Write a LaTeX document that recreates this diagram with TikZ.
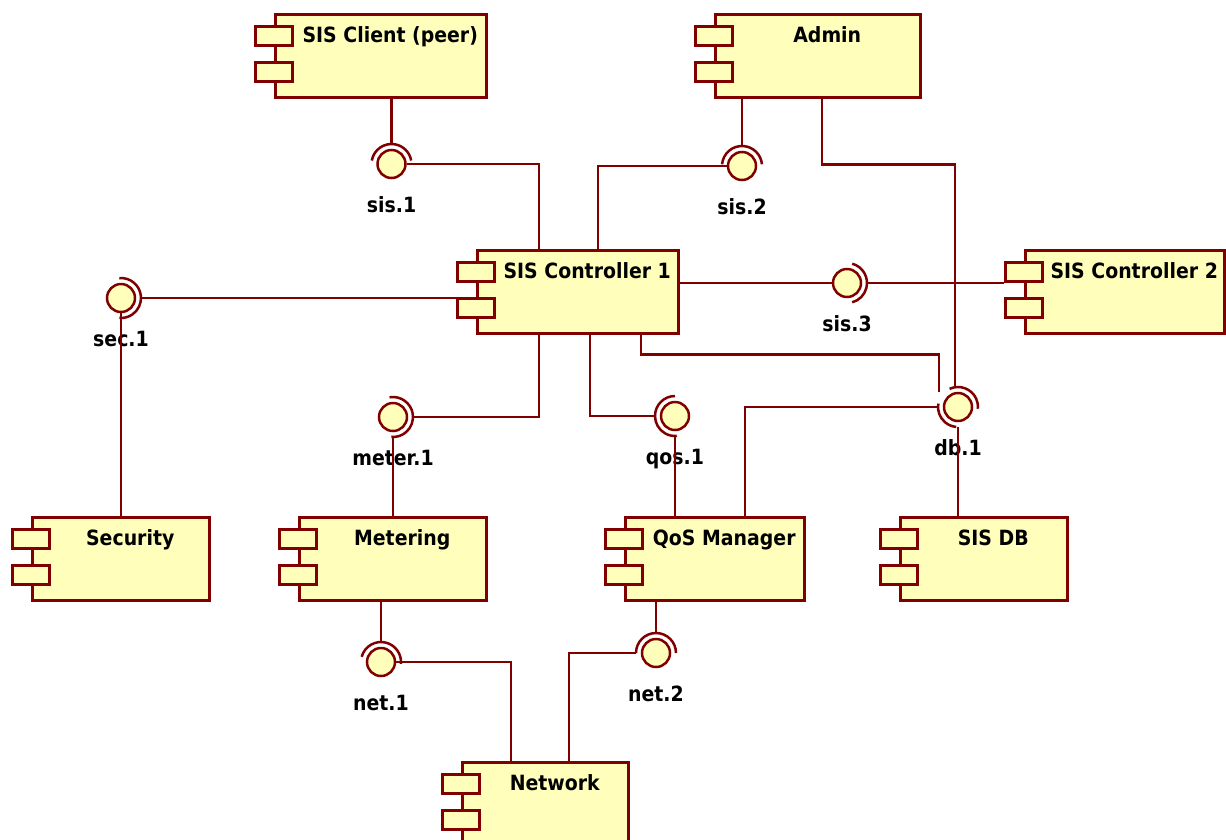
\documentclass[tikz,border=0pt]{standalone}
\usepackage{fontspec}
\newfontfamily\umlfont{DejaVu Sans}[FakeStretch=0.9]
\usepackage{tikz}
\usetikzlibrary{calc}
\usetikzlibrary{positioning}

\definecolor{umlred}{RGB}{128,0,0}
\definecolor{umlfill}{RGB}{255,255,187}

\tikzset{
    comp/.style={draw=umlred, fill=umlfill, line width=2.5pt,
        minimum height=83pt, inner sep=0pt, anchor=north west},
    port/.style={draw=umlred, fill=umlfill, line width=2.5pt,
        minimum width=37pt, minimum height=19pt, inner sep=0pt},
    comptitle/.style={anchor=base, inner sep=0pt,
        font=\umlfont\fontsize{21}{25}\selectfont\bfseries},
    ball/.style={circle, draw=umlred, fill=umlfill, line width=2.5pt,
        minimum size=28pt, inner sep=0pt},
    socket/.style={circle, minimum size=40pt, inner sep=0pt, outer sep=0pt},
    iflabel/.style={anchor=base, inner sep=0pt,
        font=\umlfont\fontsize{21}{25}\selectfont\bfseries},
    wire/.style={draw=umlred, line width=2.5pt}
}

% component: name, left, top, width, title
\newcommand{\umlcomp}[5]{%
    \node[comp, minimum width=#4pt] (#1) at (#2,#3) {};
    \node[port] (#1-a) at ([yshift=-23pt]#1.north west) {};
    \node[port] (#1-b) at ([yshift=-59pt]#1.north west) {};
    \node[comptitle] (#1-t) at ([xshift=9.5pt,yshift=-29.5pt]#1.north) {#5};
}

% interface: name, x, y, label
\newcommand{\umlif}[4]{%
    \node[ball] (#1) at (#2,#3) {};
    \node[socket] (#1s) at (#1.center) {};
    \node[iflabel] (#1-l) at ([yshift=-48pt]#1.center) {#4};
}

\begin{document}
\begin{tikzpicture}[x=1pt, y=-1pt]

        \useasboundingbox (0,0) rectangle (1226,839);

        % components
        \umlcomp{client}{274}{13}{211}{SIS Client (peer)}
        \umlcomp{admin}{714}{13}{205}{Admin}
        \umlcomp{ctrl1}{476}{249}{201}{SIS Controller 1}
        \umlcomp{ctrl2}{1024}{249}{199}{SIS Controller 2}
        \umlcomp{sec}{31}{516}{177}{Security}
        \umlcomp{meter}{298}{516}{187}{Metering}
        \umlcomp{qos}{624}{516}{179}{QoS Manager}
        \umlcomp{db}{899}{516}{167}{SIS DB}
        \umlcomp{net}{461}{761}{166}{Network}

        % interfaces
        \umlif{sis1}{391.5}{164}{sis.1}
        \umlif{sis2}{742}{166}{sis.2}
        \umlif{sec1}{121}{298}{sec.1}
        \umlif{sis3}{847}{283}{sis.3}
        \umlif{meter1}{393}{417}{meter.1}
        \umlif{qos1}{675}{416}{qos.1}
        \umlif{net1}{381}{662}{net.1}
        \umlif{net2}{656}{653}{net.2}
        \umlif{db1}{958}{407}{db.1}

        \begin{scope}[wire]
            % sockets
            \draw (sis1s.170) arc[start angle=170, end angle=10, radius=20pt];
            \draw (sis2s.175) arc[start angle=175, end angle=5, radius=20pt];
            \draw (sec1s.95) arc[start angle=95, end angle=-95, radius=20pt];
            \draw (sis3s.75) arc[start angle=75, end angle=-75, radius=20pt];
            \draw (meter1s.100) arc[start angle=100, end angle=-95, radius=20pt];
            \draw (qos1s.90) arc[start angle=90, end angle=275, radius=20pt];
            \draw (net1s.165) arc[start angle=165, end angle=-5, radius=20pt];
            \draw (net2s.180) arc[start angle=180, end angle=0, radius=20pt];
            \draw (db1s.115) arc[start angle=115, end angle=-5, radius=20pt];
            \draw (db1s.170) arc[start angle=170, end angle=265, radius=20pt];

            % wires
            \draw (client.south -| sis1s.north) -- (sis1s.north);
            \draw (sis1.east) -| ([xshift=63pt]ctrl1.north west);
            \draw (admin.south -| sis2s.north) -- (sis2s.north);
            \draw (sis2.west) -| ([xshift=122pt]ctrl1.north west);
            \draw (sec1s.east) -- (sec1s.east -| ctrl1-b.west);
            \draw (sec1.south) -- (sec1.south |- sec.north);
            \draw (ctrl1.east |- sis3.west) -- (sis3.west);
            \draw (sis3s.east) -- (sis3s.east -| ctrl2-a.west);
            \draw ([xshift=108pt]admin.south west) -- ++(0,66)
                -| ([xshift=-3pt]db1s.north);
            \draw ([xshift=165pt]ctrl1.south west) -- ++(0,20)
                -| ([xshift=-19pt,yshift=15pt]db1.center);
            \draw ([xshift=121pt]qos.north west) |- (db1s.west);
            \draw (db1s.south) -- (db1s.south |- db.north);
            \draw ([xshift=63pt]ctrl1.south west) |- (meter1s.east);
            \draw (meter1s.south) -- (meter1s.south |- meter.north);
            \draw ([xshift=114pt]ctrl1.south west) |- (qos1s.west);
            \draw (qos1s.south) -- (qos1s.south |- qos.north);
            \draw (meter.south -| net1s.north) -- (net1s.north);
            \draw (net1.east) -| ([xshift=50pt]net.north west);
            \draw (qos.south -| net2s.north) -- (net2s.north);
            \draw (net2s.west) -| ([xshift=108pt]net.north west);
        \end{scope}

\end{tikzpicture}
\end{document}
